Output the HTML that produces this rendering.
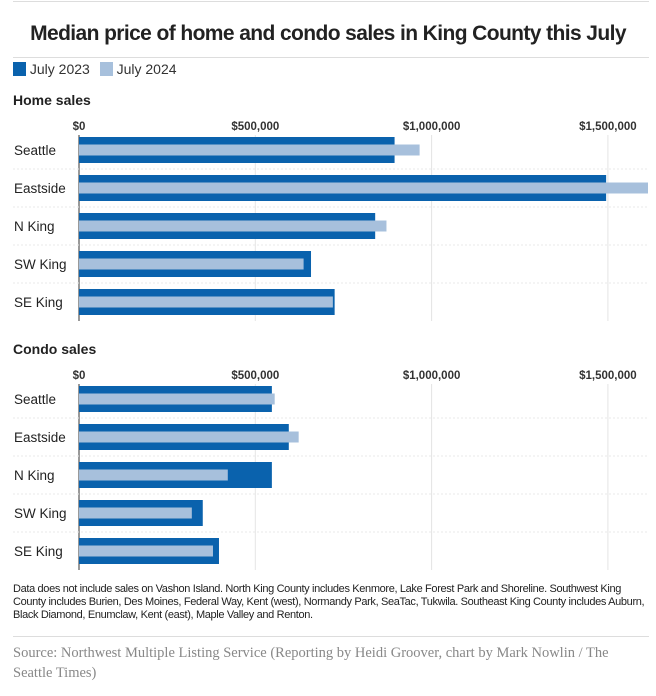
<!DOCTYPE html>
<html><head><meta charset="utf-8"><style>
body{margin:0;width:656px;height:696px;background:#fff;font-family:"Liberation Sans",sans-serif;overflow:hidden;position:relative}
.t{position:absolute;white-space:nowrap}
</style></head><body>
<div style="position:absolute;left:13px;top:1px;width:636px;height:1px;background:#ddd"></div>
<div class="t" style="left:0;width:656px;text-align:center;top:22px;font-size:21px;font-weight:bold;color:#222;letter-spacing:-0.6px">Median price of home and condo sales in King County this July</div>
<div style="position:absolute;left:13px;top:57px;width:636px;height:1px;background:#ddd"></div>
<div style="position:absolute;left:13px;top:61px;font-size:14px;color:#333">
<span><span style="display:inline-block;width:13px;height:14px;background:#0a62ad;vertical-align:-2px"></span> July 2023</span>
<span style="margin-left:6px"><span style="display:inline-block;width:13px;height:14px;background:#a7c0dc;vertical-align:-2px"></span> July 2024</span>
</div>
<svg id="c" width="656" height="580" style="position:absolute;left:0;top:0"></svg>
<div class="t" style="left:13px;top:583px;font-size:11px;line-height:13px;color:#222;white-space:normal;width:636px;letter-spacing:-0.35px">Data does not include sales on Vashon Island. North King County includes Kenmore, Lake Forest Park and Shoreline. Southwest King County includes Burien, Des Moines, Federal Way, Kent (west), Normandy Park, SeaTac, Tukwila. Southeast King County includes Auburn, Black Diamond, Enumclaw, Kent (east), Maple Valley and Renton.</div>
<div style="position:absolute;left:13px;top:636px;width:636px;height:1px;background:#ddd"></div>
<div class="t" style="left:13px;top:643px;font-family:'Liberation Serif',serif;font-size:14.5px;line-height:20px;color:#888;white-space:normal;width:620px">Source: Northwest Multiple Listing Service (Reporting by Heidi Groover, chart by Mark Nowlin / The Seattle Times)</div>
<script>
const regions=["Seattle","Eastside","N King","SW King","SE King"];
const home2023=[895000,1495000,840000,658000,725000];
const home2024=[966000,1650000,872000,637000,720000];
const condo2023=[547000,595000,547000,351000,397000];
const condo2024=[555000,623000,422000,320000,380000];
const ticks=[0,500000,1000000,1500000];
const tickLabels=["$0","$500,000","$1,000,000","$1,500,000"];
const svg=document.getElementById('c');
const NS='http://www.w3.org/2000/svg';
const x=v=>79+v/500000*176.3;
function el(t,a,p){const e=document.createElementNS(NS,t);for(const k in a)e.setAttribute(k,a[k]);(p||svg).appendChild(e);return e;}
function panel(title,top,d23,d24,key){
  const h=el('text',{x:13,y:top,'font-size':14,'font-weight':'bold',fill:'#222'});h.textContent=title;
  
  
  const y0=top+25;
  ticks.forEach((t,i)=>{
    const g=el('line',{x1:x(t),x2:x(t),y1:y0+5,y2:y0+1+5*38,stroke:i?'#e4e4e4':'#333','stroke-width':1});
    
    
    const tx=el('text',{x:x(t),y:y0,'font-size':11.5,'font-weight':'bold',fill:'#333','text-anchor':'middle'});tx.textContent=tickLabels[i];
    
    
  });
  regions.forEach((r,i)=>{
    const cy=y0+20+i*38;
    if(i>0){const s=el('line',{x1:13,x2:649,y1:cy-19,y2:cy-19,stroke:'#e8e8e8','stroke-dasharray':'2,2'});
      
      }
    const l=el('text',{x:14,y:cy+5,'font-size':13.5,fill:'#222'});l.textContent=r;
    
    
    const b1=el('rect',{x:x(0),y:cy-13,width:Math.min(x(d23[i]),648)-x(0),height:26,fill:'#0a62ad'});
    
    
    const b2=el('rect',{x:x(0),y:cy-5.5,width:Math.min(x(d24[i]),648)-x(0),height:11,fill:'#a7c0dc'});
    
    
  });
}
panel('Home sales',105,home2023,home2024,'home');
panel('Condo sales',354,condo2023,condo2024,'condo');
</script>
</body></html>
